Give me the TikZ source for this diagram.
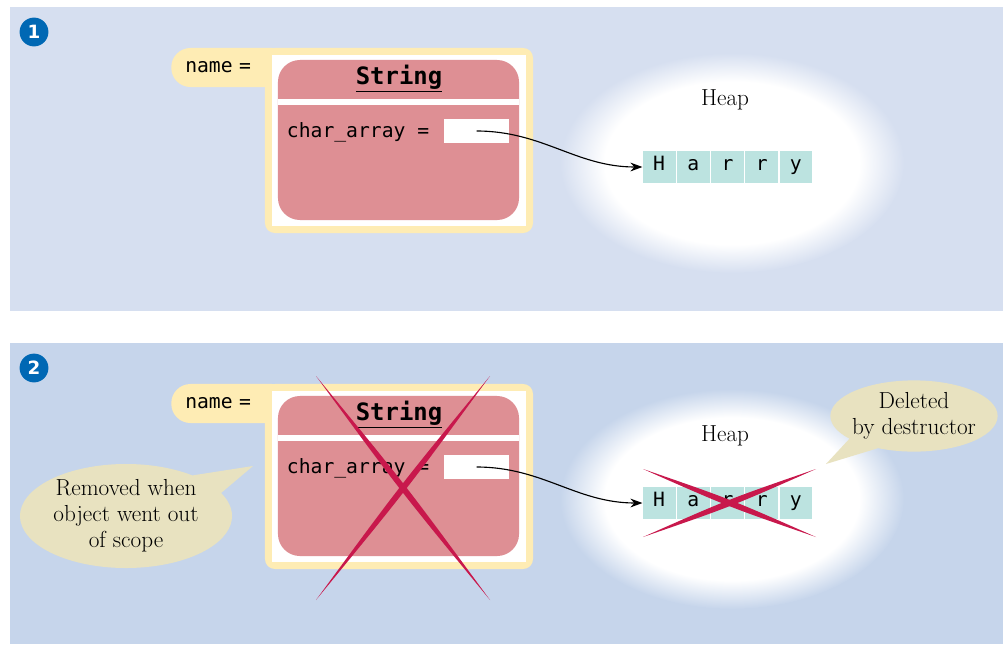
\documentclass[tikz,border=0pt]{standalone}
\usepackage{fontspec}
\setmonofont{DejaVu Sans Mono}
\newfontfamily\badgefont{DejaVu Sans}
\usetikzlibrary{arrows.meta,calc,shapes.callouts}

\definecolor{panelone}{RGB}{214,223,240}
\definecolor{paneltwo}{RGB}{198,213,235}
\definecolor{badgeblue}{RGB}{0,104,180}
\definecolor{frameyellow}{RGB}{254,236,180}
\definecolor{objpink}{RGB}{222,143,148}
\definecolor{cellteal}{RGB}{188,227,224}
\definecolor{notebeige}{RGB}{232,226,192}
\definecolor{crossred}{RGB}{200,24,76}

\newcommand{\codefont}{\ttfamily\fontsize{14}{16}\selectfont}
\newcommand{\titlefont}{\ttfamily\bfseries\fontsize{17}{20}\selectfont}
\newcommand{\notefont}{\fontsize{16.5}{18.5}\selectfont}

% soft white blob behind the heap, one per panel colour
\pgfdeclareradialshading{heap1}{\pgfpointorigin}{color(0bp)=(white); color(18.5bp)=(white); color(25bp)=(panelone); color(50bp)=(panelone)}
\pgfdeclareradialshading{heap2}{\pgfpointorigin}{color(0bp)=(white); color(18.5bp)=(white); color(25bp)=(paneltwo); color(50bp)=(paneltwo)}

% tapered cross-out stroke
\newcommand{\strike}[2]{\fill[crossred] (#1) .. controls ($(#1)!.5!(#2)!2.8pt!90:(#2)$) .. (#2) .. controls ($(#1)!.5!(#2)!2.8pt!-90:(#2)$) .. (#1) -- cycle;}

\begin{document}
\begin{tikzpicture}[x=0.025cm, y=-0.025cm, >={Stealth[length=3mm, width=2.2mm]},
      badge/.style={circle, fill=badgeblue, text=white, minimum size=0.72cm, inner sep=0pt, font=\badgefont\bfseries\fontsize{13}{13}\selectfont},
      tab/.style={fill=frameyellow, rounded corners=0.48cm, minimum height=0.975cm, text width=2.3cm, inner xsep=0.35cm, align=left, font=\codefont},
      frame/.style={fill=frameyellow, rounded corners=0.25cm, minimum width=6.7cm, minimum height=4.625cm, inner sep=0pt},
      card/.style={fill=white, minimum width=6.35cm, minimum height=4.275cm, inner sep=0pt},
      obj/.style={fill=objpink, rounded corners=0.55cm, minimum width=6.025cm, minimum height=4cm, inner sep=0pt},
      slot/.style={fill=white, minimum width=1.625cm, minimum height=0.6cm, inner sep=0pt},
      cell/.style={fill=cellteal, minimum width=0.82cm, minimum height=0.8cm, inner sep=0pt, text height=1.6ex, text depth=0.45ex, font=\codefont},
      note/.style={fill=notebeige, align=center, inner sep=-2pt, font=\notefont, callout pointer arc=25}]
    \fill[white] (0,0) rectangle (1005,644);
    \useasboundingbox (0,0) rectangle (1005,644);
    \fill[panelone] (10,7) rectangle (1003,311);
    \fill[paneltwo] (10,343) rectangle (1003,644);
    \foreach \p/\off in {1/0,2/336} {
      \begin{scope}[shift={(0,\off)}]
        \shade[shading=heap\p] (732,163) ellipse [x radius=4.3cm, y radius=2.75cm];
        \node[badge] (num\p) at (34,32) {\p};
        \node[tab, anchor=west] (tab\p) at (171,67.5) {name =};
        \node[frame] (frame\p) at (399,140.5) {};
        \node[card] (card\p) at (frame\p) {};
        \node[obj] (obj\p) at (398.5,140) {};
        \fill[white] (278,99) rectangle (519,104.5);
        \node[font=\titlefont] (title\p) at (399,79) {\underline{String}};
        \node[anchor=west, font=\codefont] (field\p) at (282,132) {char\_array =};
        \node[slot] (slot\p) at (476.5,131) {};
        \node[font=\notefont] (heap\p) at (725,100) {Heap};
        \foreach \c [count=\i] in {H,a,r,r,y}
          \node[cell] (cell\p-\i) at ({642+34.2*\i-17.1},167) {\c};
        \draw[->, line width=0.8pt] (slot\p.center) to[out=0, in=180] (cell\p-1.west);
      \end{scope}
    }
    % panel 2: notes and cross-outs
    \node[note, ellipse callout, callout absolute pointer={(253,466)}, minimum width=5.3cm, minimum height=2.6cm] (removed) at (126,516) {Removed when\\object went out\\of scope};
    \node[note, ellipse callout, callout absolute pointer={(826,464)}, minimum width=4.05cm, minimum height=1.78cm] (deleted) at (914,416) {Deleted\\by destructor};
    \coordinate (xa) at (316,376);
    \coordinate (xb) at (490,600);
    \coordinate (xc) at (490,376);
    \coordinate (xd) at (316,600);
    \strike{xa}{xb}
    \strike{xc}{xd}
    \coordinate (ya) at (643,469);
    \coordinate (yb) at (816,537);
    \coordinate (yc) at (643,537);
    \coordinate (yd) at (816,469);
    \strike{ya}{yb}
    \strike{yc}{yd}
  \end{tikzpicture}
\end{document}
